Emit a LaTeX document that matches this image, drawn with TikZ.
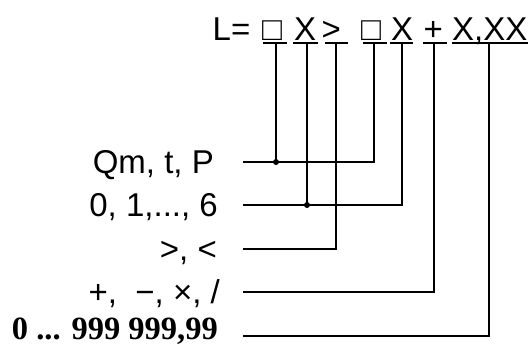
\documentclass[tikz,border=0pt]{standalone}
\usepackage{fontspec}
\setmainfont{Liberation Sans}
\newfontfamily\numfont{Liberation Serif}
\begin{document}
\begin{tikzpicture}[x=1pt,y=-1pt,
  lbl/.style={inner sep=0pt, anchor=base east, font=\fontsize{33}{40}\selectfont},
  toptext/.style={inner sep=0pt, anchor=base west, font=\fontsize{33}{40}\selectfont},
  wire/.style={line width=1.7pt, line join=miter},
  ul/.style={line width=1.7pt},
  jdot/.style={circle, fill=black, inner sep=0pt, minimum size=6pt}]
\useasboundingbox (0,0) rectangle (531,345);
% top formula
\node[toptext] (L) at (212.5,40.5) {L=};
\node[toptext] (b1) at (262,40.5) {□};
\node[toptext] (x1) at (294,40.5) {X};
\node[toptext] (gt) at (321.5,40.5) {>};
\node[toptext] (b2) at (361,40.5) {□};
\node[toptext] (x2) at (391,40.5) {X};
\node[toptext] (pl) at (423.5,40.5) {+};
\node[toptext] (num) at (452,40.5) {X,XX};
% underlines
\draw[ul] (263,43) -- (287,43);
\draw[ul] (293,43) -- (318,43);
\draw[ul] (325,43) -- (348,43);
\draw[ul] (363,43) -- (387,43);
\draw[ul] (390,43) -- (413,43);
\draw[ul] (423,43) -- (447,43);
\draw[ul] (452,43) -- (528,43);
\coordinate (u1) at (276,43);
\coordinate (u2) at (307,43);
\coordinate (u3) at (336,43);
\coordinate (u4) at (374,43);
\coordinate (u5) at (402,43);
\coordinate (u6) at (434,43);
\coordinate (u7) at (489,43);
% labels
\node[lbl] (la) at (214,173) {Qm, t, P};
\node[lbl] (lb) at (218,216) {0, 1,..., 6};
\node[lbl] (lc) at (217,260) {>, <};
\node[lbl] (ld) at (220,303) {+,\ \ −, ×, /};
\node[lbl, font=\fontsize{32.5}{40}\numfont\bfseries] (le) at (218,339.5) {0 ... 999 999,99};
% line starts
\coordinate (sa) at (243,162);
\coordinate (sb) at (243,205);
\coordinate (sc) at (243,249);
\coordinate (sd) at (243,292);
\coordinate (se) at (243,336);
% connectors
\draw[wire] (sa) -| (u4);
\draw[wire] (sb) -| (u5);
\draw[wire] (sc) -| (u3);
\draw[wire] (sd) -| (u6);
\draw[wire] (se) -| (u7);
\coordinate (ja) at (276,162);
\coordinate (jb) at (307,205);
\draw[wire] (u1) -- (ja);
\draw[wire] (u2) -- (jb);
\node[jdot] (da) at (ja) {};
\node[jdot] (db) at (jb) {};
\end{tikzpicture}
\end{document}
